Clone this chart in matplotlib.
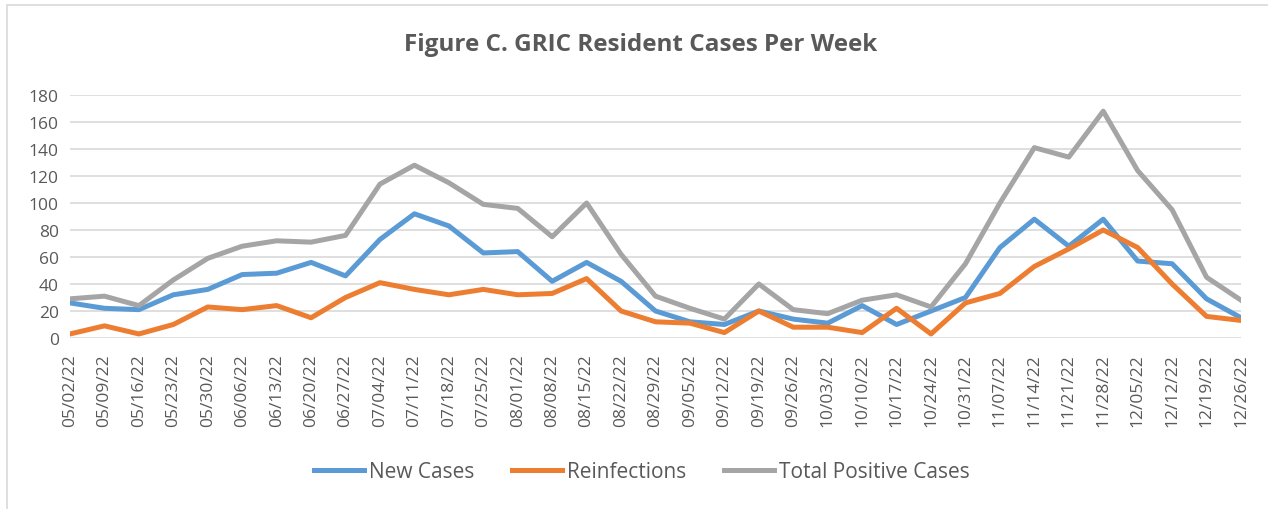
import matplotlib
matplotlib.use("Agg")
import matplotlib.pyplot as plt
from matplotlib.patches import Rectangle

weeks = ["05/02/22", "05/09/22", "05/16/22", "05/23/22", "05/30/22", "06/06/22",
         "06/13/22", "06/20/22", "06/27/22", "07/04/22", "07/11/22", "07/18/22",
         "07/25/22", "08/01/22", "08/08/22", "08/15/22", "08/22/22", "08/29/22",
         "09/05/22", "09/12/22", "09/19/22", "09/26/22", "10/03/22", "10/10/22",
         "10/17/22", "10/24/22", "10/31/22", "11/07/22", "11/14/22", "11/21/22",
         "11/28/22", "12/05/22", "12/12/22", "12/19/22", "12/26/22"]

new_cases = [26, 22, 21, 32, 36, 47, 48, 56, 46, 73, 92, 83, 63, 64, 42, 56, 42, 20,
             12, 10, 20, 14, 11, 24, 10, 20, 30, 67, 88, 68, 88, 57, 55, 29, 15]
reinfections = [3, 9, 3, 10, 23, 21, 24, 15, 30, 41, 36, 32, 36, 32, 33, 44, 20, 12,
                11, 4, 20, 8, 8, 4, 22, 3, 26, 33, 53, 66, 80, 67, 40, 16, 13]
total_positive = [29, 31, 24, 43, 59, 68, 72, 71, 76, 114, 128, 115, 99, 96, 75, 100, 62, 31,
                  22, 14, 40, 21, 18, 28, 32, 23, 55, 100, 141, 134, 168, 124, 95, 45, 28]

text_color = "#595959"
plt.rcParams["font.family"] = ["Open Sans", "DejaVu Sans"]

fig = plt.figure(figsize=(12.68, 5.10), dpi=100)
W, H = 1268, 510
ax = fig.add_axes([70 / W, 1 - 339 / H, (1241 - 70) / W, (339 - 96) / H])

x = list(range(len(weeks)))
ax.plot(x, new_cases, color="#5B9BD5", lw=3.6, label="New Cases", solid_joinstyle="round")
ax.plot(x, reinfections, color="#ED7D31", lw=3.6, label="Reinfections", solid_joinstyle="round")
ax.plot(x, total_positive, color="#A5A5A5", lw=3.6, label="Total Positive Cases", solid_joinstyle="round")

ax.set_xlim(0, len(weeks) - 1)
ax.set_ylim(0, 180)
ax.set_yticks(range(0, 181, 20))
ax.set_xticks(x)
ax.set_xticklabels(weeks, rotation=90)
ax.grid(axis="y", color="#D9D9D9", lw=1.2)
ax.set_axisbelow(True)
for s in ax.spines.values():
    s.set_visible(False)
ax.tick_params(length=0, labelsize=12.5, colors=text_color, pad=8)
ax.tick_params(axis="x", pad=11)

fig.text(0.505, 1 - 45 / H, "Figure C. GRIC Resident Cases Per Week", ha="center", va="center",
         fontsize=17.5, fontweight="bold", color=text_color)

fig.legend(loc="center", bbox_to_anchor=(0.506, 1 - 473 / H), ncol=3, frameon=False,
           fontsize=15, labelcolor=text_color, handlelength=2.4, handletextpad=0.25,
           columnspacing=1.8)

fig.patches.append(Rectangle((7 / W, -0.1), 1.2, 1 - 6 / H + 0.1, transform=fig.transFigure,
                             fill=False, edgecolor="#D9D9D9", lw=1.2))

fig.savefig("out.png", dpi=100, facecolor="white")
